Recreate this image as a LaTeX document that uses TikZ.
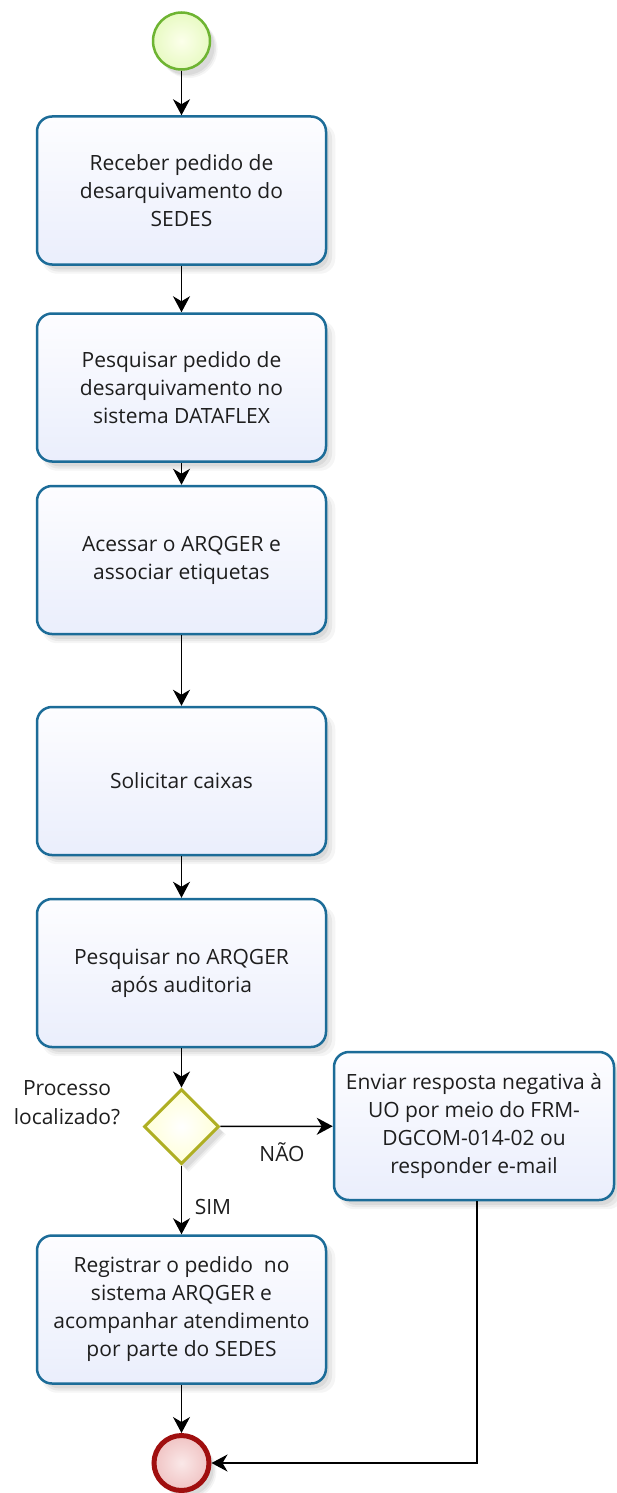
\documentclass[tikz,border=0pt]{standalone}
\usepackage{fontspec}
\setmainfont{Open Sans}
\usetikzlibrary{arrows.meta,shapes.geometric,shadows}
\definecolor{taskborder}{RGB}{28,108,152}
\definecolor{tasktop}{RGB}{253,253,255}
\definecolor{taskbot}{RGB}{234,238,252}
\definecolor{gateborder}{RGB}{175,175,35}
\definecolor{gatefill}{RGB}{255,255,215}
\definecolor{startborder}{RGB}{110,180,50}
\definecolor{startin}{RGB}{252,255,235}
\definecolor{startout}{RGB}{232,250,195}
\definecolor{endborder}{RGB}{160,15,15}
\definecolor{endin}{RGB}{250,232,232}
\definecolor{endout}{RGB}{240,195,195}
\definecolor{txt}{RGB}{30,30,30}
\begin{document}
\begin{tikzpicture}[x=1pt,y=-1pt,
  every node/.style={font=\fontsize{21}{28}\selectfont, text=txt},
  softshadow/.style={
    general shadow={shadow xshift=7pt, shadow yshift=-8pt, shadow scale=1.015, fill=black, opacity=0.04},
    general shadow={shadow xshift=6pt, shadow yshift=-7pt, fill=black, opacity=0.05},
    general shadow={shadow xshift=5pt, shadow yshift=-6pt, shadow scale=0.985, fill=black, opacity=0.06}},
  task/.style={draw=taskborder, line width=2.5pt, rounded corners=15pt,
    minimum width=289pt, minimum height=148pt, align=center,
    top color=tasktop, bottom color=taskbot, softshadow},
  gate/.style={diamond, aspect=1, draw=gateborder, line width=3pt,
    inner color=white, outer color=gatefill,
    minimum width=75pt, minimum height=75pt, inner sep=0pt, softshadow},
  startev/.style={circle, draw=startborder, line width=2.5pt,
    inner color=startin, outer color=startout,
    minimum size=57pt, inner sep=0pt, softshadow},
  endev/.style={circle, draw=endborder, line width=5pt,
    inner color=endin, outer color=endout,
    minimum size=55pt, inner sep=0pt, softshadow},
  arr/.style={draw=black, line width=1.5pt, -{Stealth[length=16pt, width=17pt, inset=5pt]}},
  lbl/.style={font=\fontsize{21}{29}\selectfont, align=center}
]
\useasboundingbox (0,0) rectangle (617,1493);
\fill[white] (0,0) rectangle (617,1493);

\node[startev] (start) at (181.5,41) {};
\node[task] (t1) at (181.5,190.5) {Receber pedido de\\desarquivamento do\\SEDES};
\node[task] (t2) at (181.5,387.5) {Pesquisar pedido de\\desarquivamento no\\sistema DATAFLEX};
\node[task] (t3) at (181.5,560) {Acessar o ARQGER e\\associar etiquetas};
\node[task] (t4) at (181.5,781) {Solicitar caixas};
\node[task] (t5) at (181.5,973) {Pesquisar no ARQGER\\após auditoria};
\node[gate] (g) at (181.5,1126.5) {};
\node[task, minimum width=280pt] (neg) at (474,1126) {Enviar resposta negativa à\\UO por meio do FRM-\\DGCOM-014-02 ou\\responder e-mail};
\node[task] (t6) at (181.5,1309.5) {Registrar o pedido\ \ no\\sistema ARQGER e\\acompanhar atendimento\\por parte do SEDES};
\node[endev] (end) at (181.5,1463) {};

\node[lbl] (q) at (67,1103) {Processo\\localizado?};
\node[lbl] (nao) at (282,1152) {NÃO};
\node[lbl] (sim) at (213,1207) {SIM};

\draw[arr] (start) -- (t1);
\draw[arr] (t1) -- (t2);
\draw[arr] (t2) -- (t3);
\draw[arr] (t3) -- (t4);
\draw[arr] (t4) -- (t5);
\draw[arr] (t5) -- (g);
\draw[arr] (g) -- (neg);
\draw[arr] (g) -- (t6);
\draw[arr] (t6) -- (end);
\draw[arr] ([xshift=3pt]neg.south) |- (end);
\end{tikzpicture}
\end{document}
